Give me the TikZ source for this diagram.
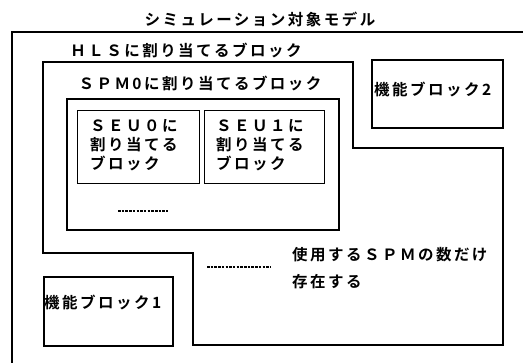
\documentclass[tikz,border=0pt]{standalone}
\usepackage{fontspec}
\newfontfamily\jp[LetterSpace=16,BoldFont={Noto Sans CJK JP Bold}]{Noto Sans CJK JP}
\begin{document}
\begin{tikzpicture}[x=1pt,y=-1pt,
  box/.style={draw,line width=1.8pt},
  lbl/.style={inner sep=0pt,font=\jp\bfseries\fontsize{15.5}{19}\selectfont},
  dots/.style={line width=1.5pt,dash pattern=on 2.5pt off 1.2pt}]
\useasboundingbox (0,0) rectangle (523,363);
% outer model frame (clipped by the page)
\draw[line width=1.4pt] (540,32) -- (12,32) -- (12,380);
\node[lbl] (title) at (260,19) {シミュレーション対象モデル};
\node[lbl] (hlslbl) at (186,50) {ＨＬＳに割り当てるブロック};
% HLS block outline
\draw[box] (43,62) -- (353,62) -- (353,148) -- (503,148) -- (503,345)
  -- (193,345) -- (193,253) -- (43,253) -- cycle;
\node[lbl] (spmlbl) at (200,83) {ＳＰＭ0に割り当てるブロック};
% SPM0 block
\node[box,minimum width=272pt,minimum height=131pt,anchor=north west,inner sep=0pt] (spm) at (66,98) {};
\node[box,line width=1.4pt,minimum width=122pt,minimum height=73pt,anchor=north west,inner sep=0pt] (seu0) at (77,110) {};
\node[box,line width=1.4pt,minimum width=120pt,minimum height=73pt,anchor=north west,inner sep=0pt] (seu1) at (204,110) {};
\node[lbl,align=left,anchor=west] (seu0t) at (90,145) {ＳＥＵ０に\\割り当てる\\ブロック};
\node[lbl,align=left,anchor=west] (seu1t) at (216,145) {ＳＥＵ１に\\割り当てる\\ブロック};
\coordinate (d1a) at (118,211);
\coordinate (d1b) at (168,211);
\draw[dots] (d1a) -- (d1b);
% function blocks
\node[box,minimum width=131pt,minimum height=68pt,anchor=north west,inner sep=0pt] (fb2) at (371,59) {};
\node[lbl,anchor=west] (fb2t) at (374,89) {機能ブロック2};
\node[box,minimum width=129pt,minimum height=69pt,anchor=north west,inner sep=0pt] (fb1) at (43,276) {};
\node[lbl,anchor=west] (fb1t) at (44,302) {機能ブロック1};
% ellipsis and note
\coordinate (d2a) at (207,267);
\coordinate (d2b) at (270,267);
\draw[dots] (d2a) -- (d2b);
\node[lbl,align=left,anchor=west,font=\jp\bfseries\fontsize{15.5}{27}\selectfont] (note) at (292,268) {使用するＳＰＭの数だけ\\存在する};
\end{tikzpicture}
\end{document}
